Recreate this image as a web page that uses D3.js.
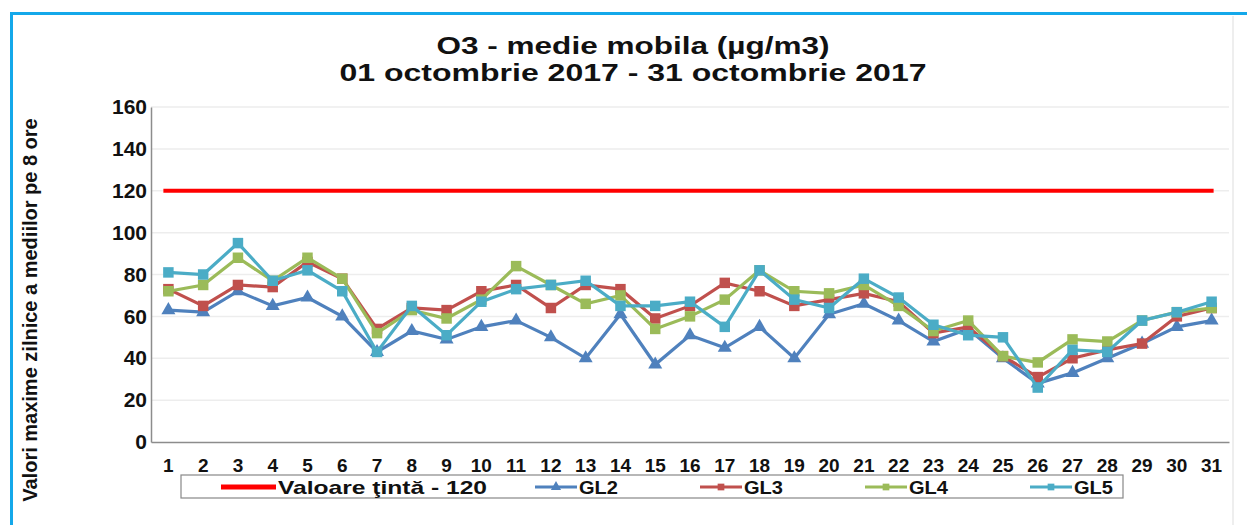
<!DOCTYPE html>
<html><head><meta charset="utf-8">
<script src="https://cdn.jsdelivr.net/npm/d3@7"></script>
<style>
html,body{margin:0;padding:0;background:#fff;}
svg{display:block;font-family:"Liberation Sans",Arial,sans-serif;font-weight:bold;}
</style></head>
<body>
<svg id="c" width="1247" height="525"></svg>
<script>
const titleLines = ["O3 - medie mobila (µg/m3)", "01 octombrie 2017 - 31 octombrie 2017"];
const yAxisTitle = "Valori maxime zilnice a mediilor pe 8 ore";
const days = d3.range(1, 32).map(String);
const yTicks = [0, 20, 40, 60, 80, 100, 120, 140, 160];
const targetLabel = "Valoare ţintă - 120";
const targetValue = 120;
const seriesNames = ["GL2", "GL3", "GL4", "GL5"];
const GL2 = [63,62,72,65,69,60,43,53,49,55,58,50,40,61,37,51,45,55,40,61,66,58,48,54,40,28,33,40,47,55,58];
const GL3 = [73,65,75,74,86,78,54,64,63,72,75,64,75,73,59,65,76,72,65,68,71,67,52,55,41,31,40,44,47,60,64];
const GL4 = [72,75,88,77,88,78,52,63,59,68,84,75,66,70,54,60,68,82,72,71,75,65,53,58,41,38,49,48,58,62,64];
const GL5 = [81,80,95,77,82,72,43,65,51,67,73,75,77,65,65,67,55,82,68,64,78,69,56,51,50,26,44,43,58,62,67];

const seriesValues = [GL2, GL3, GL4, GL5];
const colors = ["#4f81bd", "#c0504d", "#9bbb59", "#4bacc6"];
const markers = [d3.symbolTriangle, d3.symbolSquare, d3.symbolSquare, d3.symbolSquare];
const targetColor = "#ff0000";

const svg = d3.select("#c");
svg.append("rect").attr("x", 11.5).attr("y", 13.5).attr("width", 1260).attr("height", 540)
  .attr("fill", "#fff").attr("stroke", "#14a8ea").attr("stroke-width", 3);
svg.append("line").attr("x1", 1233).attr("x2", 1233).attr("y1", 16).attr("y2", 525)
  .attr("stroke", "#eeeeee").attr("stroke-width", 2);

const m = {left: 151, right: 1229, top: 107, bottom: 442};
const x = d3.scaleBand().domain(days).range([m.left, m.right]);
const y = d3.scaleLinear().domain([0, 160]).range([m.bottom, m.top]);
const cx = d => x(d) + x.bandwidth() / 2;

// title
const titleWidths = [393, 587];
svg.selectAll("text.title").data(titleLines).join("text").attr("class", "title")
  .attr("x", 633).attr("y", (d, i) => 54 + i * 27).attr("text-anchor", "middle")
  .attr("font-size", 23).attr("fill", "#111")
  .attr("textLength", (d, i) => titleWidths[i]).attr("lengthAdjust", "spacingAndGlyphs")
  .text(d => d);

// gridlines
svg.append("g").selectAll("line").data(yTicks.filter(v => v > 0)).join("line")
  .attr("x1", m.left).attr("x2", m.right).attr("y1", d => y(d)).attr("y2", d => y(d))
  .attr("stroke", "#ededed").attr("stroke-width", 1.5);

// y axis
const yAxis = svg.append("g").attr("transform", `translate(${m.left},0)`)
  .call(d3.axisLeft(y).tickValues(yTicks).tickSize(0).tickPadding(4));
yAxis.select(".domain").attr("stroke", "#8c8c8c").attr("stroke-width", 1.5);
yAxis.selectAll("text").attr("font-size", 21).attr("fill", "#111")
  .attr("font-family", "Liberation Sans, Arial, sans-serif").attr("font-weight", "bold");

// x axis
const xAxis = svg.append("g").attr("transform", `translate(0,${m.bottom})`)
  .call(d3.axisBottom(x).tickSize(0).tickPadding(17));
xAxis.select(".domain").attr("stroke", "#8c8c8c").attr("stroke-width", 1.5);
xAxis.selectAll("text").attr("font-size", 19).attr("fill", "#111")
  .attr("font-family", "Liberation Sans, Arial, sans-serif").attr("font-weight", "bold");

// y title
svg.append("text").attr("transform", "translate(37,310) rotate(-90)")
  .attr("text-anchor", "middle").attr("font-size", 20).attr("fill", "#111").text(yAxisTitle);

// target line
svg.append("line").attr("x1", cx(days[0]) - 5).attr("x2", cx(days[days.length - 1]) + 2)
  .attr("y1", y(targetValue)).attr("y2", y(targetValue))
  .attr("stroke", targetColor).attr("stroke-width", 4);

// series
const line = d3.line().x((d, i) => cx(days[i])).y(d => y(d));
seriesValues.forEach((vals, s) => {
  const g = svg.append("g");
  g.append("path").attr("d", line(vals)).attr("fill", "none")
    .attr("stroke", colors[s]).attr("stroke-width", 3.2);
  g.selectAll("path.mk").data(vals).join("path").attr("class", "mk")
    .attr("transform", (d, i) => `translate(${cx(days[i])},${y(d)})`)
    .attr("d", d3.symbol().type(markers[s]).size(s === 0 ? 85 : 110))
    .attr("fill", colors[s]);
});

// legend
const lg = svg.append("g");
lg.append("rect").attr("x", 181).attr("y", 475).attr("width", 942).attr("height", 23)
  .attr("fill", "#fff").attr("stroke", "#888").attr("stroke-width", 1.2);
const legendItems = [{label: targetLabel, color: targetColor, marker: null, x0: 221, w: 55, sw: 5, tl: 209}]
  .concat(seriesNames.map((n, i) => ({label: n, color: colors[i], marker: markers[i], x0: [535, 700, 865, 1030][i], w: 42, sw: 3, tl: 39})));
legendItems.forEach(it => {
  lg.append("line").attr("x1", it.x0).attr("x2", it.x0 + it.w).attr("y1", 487).attr("y2", 487)
    .attr("stroke", it.color).attr("stroke-width", it.sw);
  if (it.marker) lg.append("path").attr("transform", `translate(${it.x0 + it.w / 2},487)`)
    .attr("d", d3.symbol().type(it.marker).size(45)).attr("fill", it.color);
  lg.append("text").attr("x", it.x0 + it.w + 2).attr("y", 494).attr("font-size", 19)
    .attr("textLength", it.tl).attr("lengthAdjust", "spacingAndGlyphs")
    .attr("fill", "#111").text(it.label);
});
</script>
</body></html>
